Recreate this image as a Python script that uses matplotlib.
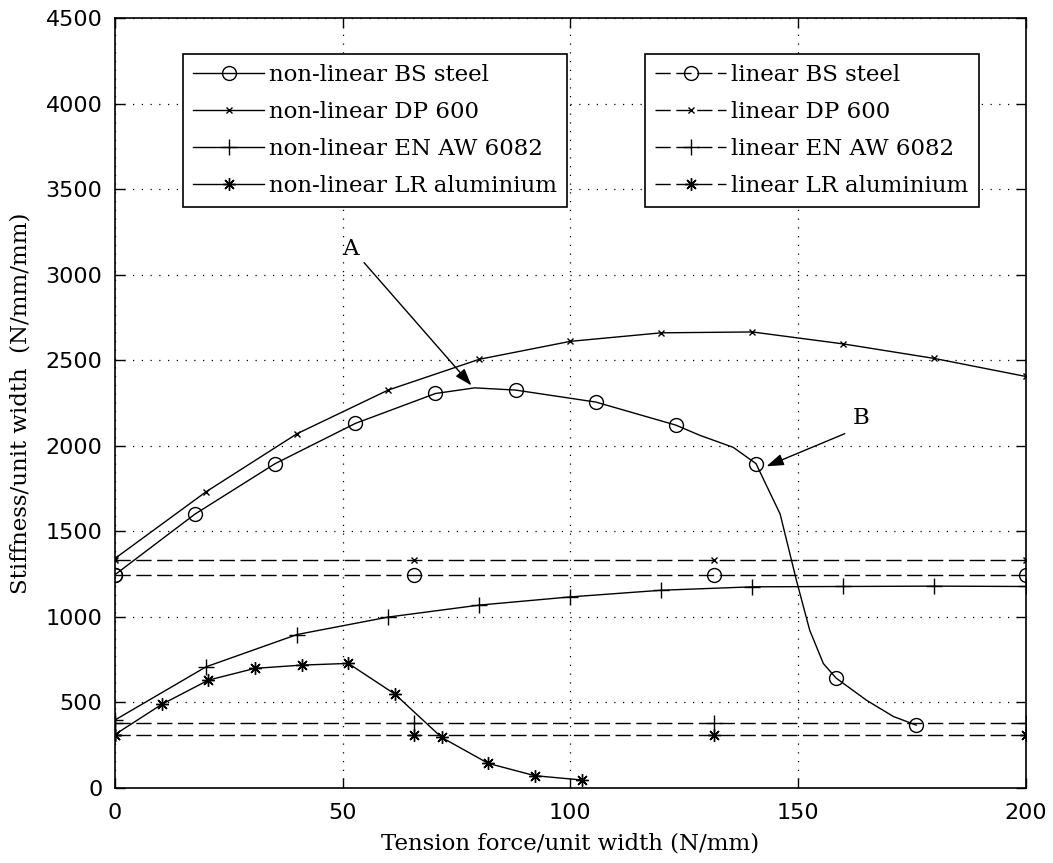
import matplotlib.pyplot as plt

# tension force / unit width (N/mm) and stiffness / unit width (N/mm/mm)
bs_x = [0, 17.6, 35.2, 52.8, 70.4, 79, 88, 105.6, 123.2, 128.5, 135.8, 140.8,
        146.1, 149.7, 152.6, 155.6, 158.4, 165.1, 171, 176]
bs_y = [1245, 1600, 1895, 2130, 2305, 2338, 2325, 2255, 2120, 2060, 1990, 1895,
        1600, 1210, 920, 725, 640, 510, 415, 365]
bs_marks = [0, 1, 2, 3, 4, 6, 7, 8, 11, 16, 19]

dp_x = [0, 20, 40, 60, 80, 100, 120, 140, 160, 180, 200]
dp_y = [1340, 1730, 2070, 2325, 2505, 2610, 2660, 2665, 2595, 2510, 2405]

en_x = [0, 20, 40, 60, 80, 100, 120, 140, 160, 180, 200]
en_y = [395, 706, 895, 997, 1067, 1115, 1154, 1174, 1176, 1178, 1176]

lr_x = [0, 10.25, 20.5, 30.75, 41, 51.25, 61.5, 71.75, 82, 92.25, 102.5]
lr_y = [310, 486, 628, 697, 716, 726, 546, 293, 141, 69, 44]

# linear models are constant stiffness
lin_x = [0, 65.6, 131.5, 200]
lin_bs = 1245
lin_dp = 1333
lin_en = 378
lin_lr = 310

serif = 'DejaVu Serif'
star = (8, 2, 0)

fig = plt.figure(figsize=(10.53, 8.63), dpi=100)
ax = fig.add_axes([115 / 1053, 1 - 787.5 / 863, 910.5 / 1053, 769.2 / 863])

lw = 1.0
dash = (11, 4)

l1, = ax.plot(bs_x, bs_y, 'k-', lw=lw, marker='o', ms=10, mfc='none', mew=1,
              markevery=bs_marks)
l2, = ax.plot(dp_x, dp_y, 'k-', lw=lw, marker='x', ms=5, mew=1)
l3, = ax.plot(en_x, en_y, 'k-', lw=lw, marker='+', ms=12, mew=1)
l4, = ax.plot(lr_x, lr_y, 'k-', lw=lw, marker=star, ms=9, mew=1)

d1, = ax.plot(lin_x, [lin_bs] * 4, 'k--', dashes=dash, lw=lw, marker='o', ms=10,
              mfc='none', mew=1)
d2, = ax.plot(lin_x, [lin_dp] * 4, 'k--', dashes=dash, lw=lw, marker='x', ms=5, mew=1)
d3, = ax.plot(lin_x, [lin_en] * 4, 'k--', dashes=dash, lw=lw, marker='+', ms=12, mew=1)
d4, = ax.plot(lin_x, [lin_lr] * 4, 'k--', dashes=dash, lw=lw, marker=star, ms=9, mew=1)

ax.set_xlim(0, 200)
ax.set_ylim(0, 4500)
ax.set_xticks(range(0, 201, 50))
ax.set_yticks(range(0, 4501, 500))
ax.grid(True, color='k', linestyle=(0, (1, 6)), lw=0.9)
ax.tick_params(direction='in', length=7, width=1, top=True, right=True,
               labelsize=16, colors='k')
ax.tick_params(axis='x', pad=11)
ax.tick_params(axis='y', pad=9)
for s in ax.spines.values():
    s.set_linewidth(1.2)

ax.set_xlabel('Tension force/unit width (N/mm)', family=serif, fontsize=16.5, labelpad=7)
ax.set_ylabel('Stiffness/unit width  (N/mm/mm)', family=serif, fontsize=16.5, labelpad=10)

# annotations A and B
arrow = dict(arrowstyle='-|>,head_length=0.65,head_width=0.22', color='k',
             lw=1, mutation_scale=16, shrinkA=0, shrinkB=0)
ax.annotate('', xy=(78.3, 2352), xytext=(54.7, 3071), arrowprops=arrow)
ax.text(51.6, 3153, 'A', family=serif, fontsize=16.5, ha='center', va='center')
ax.annotate('', xy=(143.1, 1879), xytext=(160.3, 2070), arrowprops=arrow)
ax.text(164, 2160, 'B', family=serif, fontsize=16.5, ha='center', va='center')

leg_kw = dict(frameon=True, fancybox=False, framealpha=1, edgecolor='k',
              handlelength=3.1, handletextpad=0.2, labelspacing=0.65,
              borderpad=0.45, borderaxespad=0, prop={'family': serif, 'size': 16.5})

leg1 = fig.legend([l1, l2, l3, l4],
                  ['non-linear BS steel', 'non-linear DP 600',
                   'non-linear EN AW 6082', 'non-linear LR aluminium'],
                  loc='upper left', bbox_to_anchor=(183 / 1053, 1 - 54 / 863), **leg_kw)
leg1.get_frame().set_linewidth(1.2)
leg2 = fig.legend([d1, d2, d3, d4],
                  ['linear BS steel', 'linear DP 600',
                   'linear EN AW 6082', 'linear LR aluminium'],
                  loc='upper left', bbox_to_anchor=(645 / 1053, 1 - 54 / 863), **leg_kw)
leg2.get_frame().set_linewidth(1.2)

fig.savefig('out.png', dpi=100, facecolor='white')
